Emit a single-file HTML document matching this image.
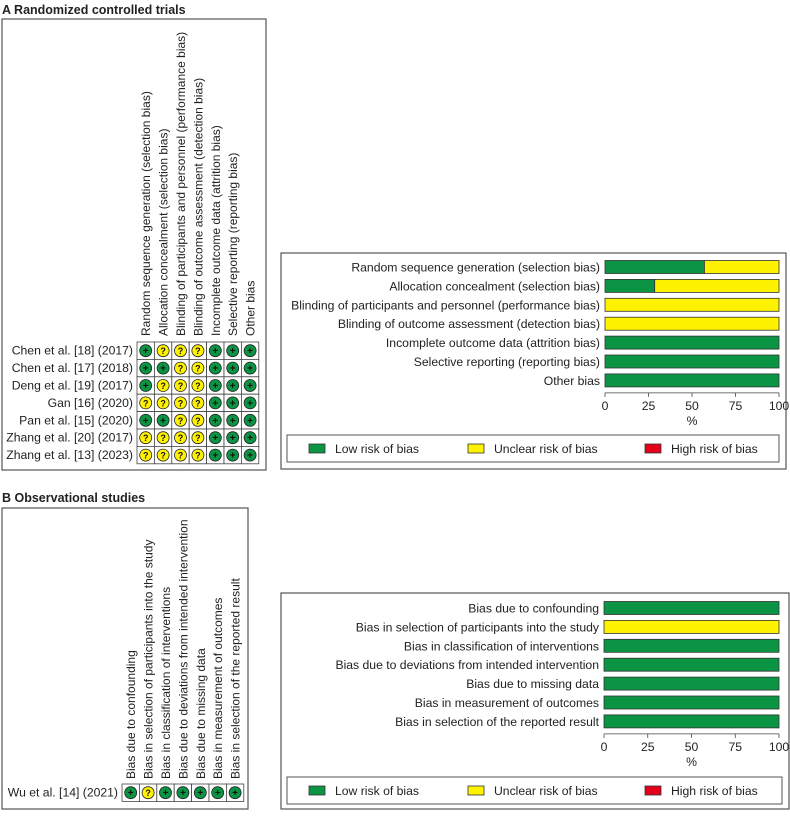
<!DOCTYPE html>
<html><head><meta charset="utf-8"><style>
body{margin:0;background:#fff;}
svg text{font-family:"Liberation Sans",Arial,sans-serif;fill:#222;}
</style></head><body>
<svg id="fig" width="790" height="812" viewBox="0 0 790 812" xmlns="http://www.w3.org/2000/svg">
<text x="2" y="14" font-size="12.5" font-weight="bold">A  Randomized controlled trials</text>
<text x="2" y="502" font-size="12.5" font-weight="bold">B  Observational studies</text>
</svg>
<script>
const domainsA = ["Random sequence generation (selection bias)","Allocation concealment (selection bias)","Blinding of participants and personnel (performance bias)","Blinding of outcome assessment (detection bias)","Incomplete outcome data (attrition bias)","Selective reporting (reporting bias)","Other bias"];
const studiesA = ["Chen et al. [18] (2017)","Chen et al. [17] (2018)","Deng et al. [19] (2017)","Gan [16] (2020)","Pan et al. [15] (2020)","Zhang et al. [20] (2017)","Zhang et al. [13] (2023)"];
const judgementsA = [
 ["+","?","?","?","+","+","+"],
 ["+","+","?","?","+","+","+"],
 ["+","?","?","?","+","+","+"],
 ["?","?","?","?","+","+","+"],
 ["+","+","?","?","+","+","+"],
 ["?","?","?","?","+","+","+"],
 ["?","?","?","?","+","+","+"]];
const domainsB = ["Bias due to confounding","Bias in selection of participants into the study","Bias in classification of interventions","Bias due to deviations from intended intervention","Bias due to missing data","Bias in measurement of outcomes","Bias in selection of the reported result"];
const studiesB = ["Wu et al. [14] (2021)"];
const judgementsB = [["+","?","+","+","+","+","+"]];
const tickLabels = [0,25,50,75,100];
const legendLabels = ["Low risk of bias","Unclear risk of bias","High risk of bias"];

const NS="http://www.w3.org/2000/svg";
const svg=document.getElementById('fig');
const GREEN="#0b9444",YELLOW="#fff200",RED="#e4001b";
const FS=12.2;
function mk(tag,attrs,parent){const e=document.createElementNS(NS,tag);for(const k in attrs)e.setAttribute(k,attrs[k]);(parent||svg).appendChild(e);return e;}

function summary(domains,studies,judg,cfg){
  const L=cfg.left;
  const box=mk('rect',{x:L.x,y:L.y,width:L.w,height:L.h,fill:'none',stroke:'#555','stroke-width':1.2});
  
  
  const cw=17.4,rh=17.4;
  domains.forEach((d,j)=>{
    const cx=L.gx+cw*j+cw/2;
    const t=mk('text',{x:0,y:0,'font-size':12,transform:`translate(${cx+4.5},${L.labelBottom}) rotate(-90)`});
    t.textContent=d;
    
    
  });
  studies.forEach((s,i)=>{
    const y=L.gy+rh*i;
    const t=mk('text',{x:L.gx-4,y:y+rh/2+4,'font-size':FS,'text-anchor':'end'});
    t.textContent=s;
    
    
    judg[i].forEach((v,j)=>{
      const x=L.gx+cw*j;
      const c=mk('rect',{x:x,y:y,width:cw,height:rh,fill:'#fff',stroke:'#444','stroke-width':0.8});
      
      
      const ci=mk('circle',{cx:x+cw/2,cy:y+rh/2,r:6,fill:v==='+'?GREEN:(v==='?'?YELLOW:RED),stroke:'#222','stroke-width':0.8});
      
      
      const s2=mk('text',{x:x+cw/2,y:y+rh/2+3.5,'font-size':v==='+'?10:9,'text-anchor':'middle','font-weight':'bold'});
      s2.style.fill='#111';
      s2.textContent=v;
      
      
    });
  });
  const R=cfg.right;
  const rb=mk('rect',{x:R.x,y:R.y,width:R.w,height:R.h,fill:'none',stroke:'#555','stroke-width':1.2});
  
  
  const x0=R.bx0,x1=R.bx1;
  const xs=v=>x0+(x1-x0)*v/100;
  const sp=18.9,bh=13;
  domains.forEach((d,j)=>{
    const cy=R.row1+sp*j;
    let low=0,unc=0,high=0;
    judg.forEach(r=>{if(r[j]==='+')low++;else if(r[j]==='?')unc++;else high++;});
    const n=judg.length;
    const pl=100*low/n,pu=100*unc/n,ph=100*high/n;
    const t=mk('text',{x:x0-5,y:cy+4.5,'font-size':FS,'text-anchor':'end'});
    t.textContent=d;
    
    
    const segs=[[0,pl,GREEN,'low'],[pl,pl+pu,YELLOW,'unclear'],[pl+pu,pl+pu+ph,RED,'high']];
    segs.forEach(s=>{if(s[1]>s[0]){
      const r=mk('rect',{x:xs(s[0]),y:cy-bh/2,width:xs(s[1])-xs(s[0]),height:bh,fill:s[2],stroke:'#333','stroke-width':0.8});
      
      
    }});
  });
  const ay=R.row1+sp*(domains.length-1)+bh/2+6;
  const ax=mk('line',{x1:x0,y1:ay,x2:x1,y2:ay,stroke:'#444','stroke-width':0.8});
  
  
  tickLabels.forEach(v=>{
    const tk=mk('line',{x1:xs(v),y1:ay,x2:xs(v),y2:ay+4,stroke:'#444','stroke-width':0.8});
    
    
    const tl=mk('text',{x:xs(v),y:ay+17,'font-size':FS,'text-anchor':'middle'});
    tl.textContent=v;
    
    
  });
  const pt=mk('text',{x:(x0+x1)/2,y:ay+32,'font-size':FS,'text-anchor':'middle'});
  pt.textContent='%';
  
  
  const lg=mk('rect',{x:R.x+6,y:R.legY,width:R.w-13,height:27,fill:'none',stroke:'#555','stroke-width':1});
  
  
  const lx=[309,468,645],cols=[GREEN,YELLOW,RED];
  legendLabels.forEach((l,k)=>{
    const sw=mk('rect',{x:lx[k],y:R.legY+9,width:16,height:9,fill:cols[k],stroke:'#333','stroke-width':0.8});
    
    
    const lt=mk('text',{x:lx[k]+26,y:R.legY+18,'font-size':FS});
    lt.textContent=l;
    
    
  });
}
summary(domainsA,studiesA,judgementsA,{key:'rct',
  left:{x:2,y:19,w:264,h:451,gx:137,gy:342,labelBottom:336},
  right:{x:281,y:253,w:505,h:216,bx0:605,bx1:779,row1:267,legY:435}});
summary(domainsB,studiesB,judgementsB,{key:'observational',
  left:{x:2,y:508,w:246,h:301,gx:122,gy:784,labelBottom:779},
  right:{x:281,y:593,w:508,h:216,bx0:604,bx1:779,row1:608,legY:777}});
</script>
</body></html>
